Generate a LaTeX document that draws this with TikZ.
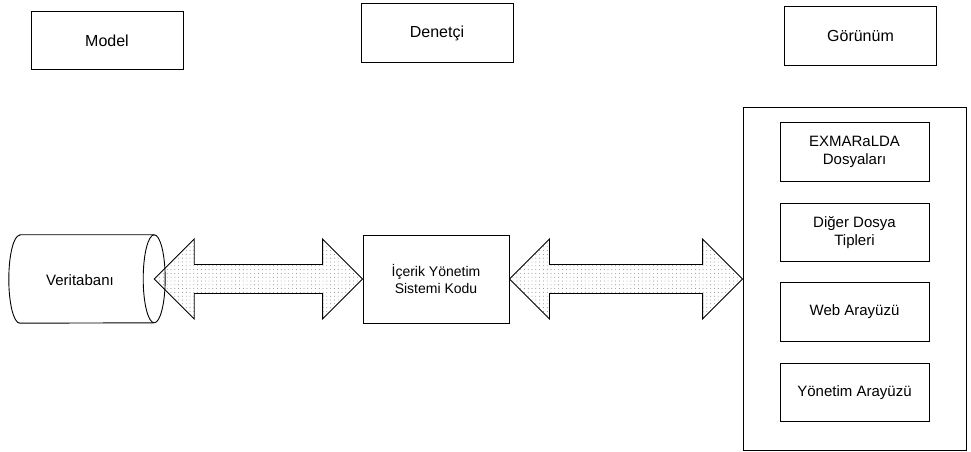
\documentclass[tikz,border=0pt]{standalone}
\usepackage{fontspec}
\setmainfont{Liberation Sans}
\usetikzlibrary{patterns.meta,calc}
\newcommand\dblarrow[2]{%
  \draw[bigarrow] let \p1=(#1), \p2=(#2) in
    (\x1,\y1) -- (\x1+40pt,\y1+40pt) -- (\x1+40pt,\y1+14.5pt)
    -- (\x2-40pt,\y1+14.5pt) -- (\x2-40pt,\y1+40pt) -- (\x2,\y1)
    -- (\x2-40pt,\y1-40pt) -- (\x2-40pt,\y1-14.5pt)
    -- (\x1+40pt,\y1-14.5pt) -- (\x1+40pt,\y1-40pt) -- cycle;}
\begin{document}
\begin{tikzpicture}[x=1pt,y=1pt,
  line/.style={draw=black,line width=0.9pt},
  txt/.style={font=\fontsize{15}{18}\selectfont, align=center},
  box/.style={line, rectangle, align=center, inner sep=0pt, font=\fontsize{15}{18}\selectfont},
  topbox/.style={box, minimum width=152, minimum height=58.5, font=\fontsize{16}{19}\selectfont},
  subbox/.style={box, minimum width=149, minimum height=58.5},
  bigarrow/.style={line, line join=miter, pattern={Dots[distance=3.8pt,radius=0.45pt]}, pattern color=black!55}]
\useasboundingbox (0,0) rectangle (971,452);
% top labels
\node[topbox] (model) at (107,411.5) {Model};
\node[topbox] (ctrl) at (437,419) {Denetçi};
\node[topbox] (viewlbl) at (860.5,416) {Görünüm};
% database cylinder
\node[minimum width=134, minimum height=88, inner sep=0pt] (db) at (87,173) {};
\draw[line] (db.north west) -- (db.north east)
   arc[start angle=90, end angle=-90, x radius=11pt, y radius=44pt]
   -- (db.south west)
   arc[start angle=270, end angle=90, x radius=11pt, y radius=44pt] -- cycle;
\draw[line] (db.north east) arc[start angle=90, end angle=270, x radius=11pt, y radius=44pt];
\node[txt] (dbtext) at (80,172) {Veritabanı};
% middle box
\node[box, minimum width=146, minimum height=88, font=\fontsize{14}{17}\selectfont] (cms) at (436,173) {İçerik Yönetim\\Sistemi Kodu};
% view container
\node[line, minimum width=223, minimum height=343, inner sep=0pt] (view) at (854.5,173.5) {};
\node[subbox] (exm) at (854.5,300) {EXMARaLDA\\Dosyaları};
\node[subbox] (other) at (854.5,219.5) {Diğer Dosya\\Tipleri};
\node[subbox] (web) at (854.5,140) {Web Arayüzü};
\node[subbox] (admin) at (854.5,59.5) {Yönetim Arayüzü};
% arrows
\dblarrow{db.east}{cms.west}
\dblarrow{cms.east}{view.west}
\end{tikzpicture}
\end{document}
